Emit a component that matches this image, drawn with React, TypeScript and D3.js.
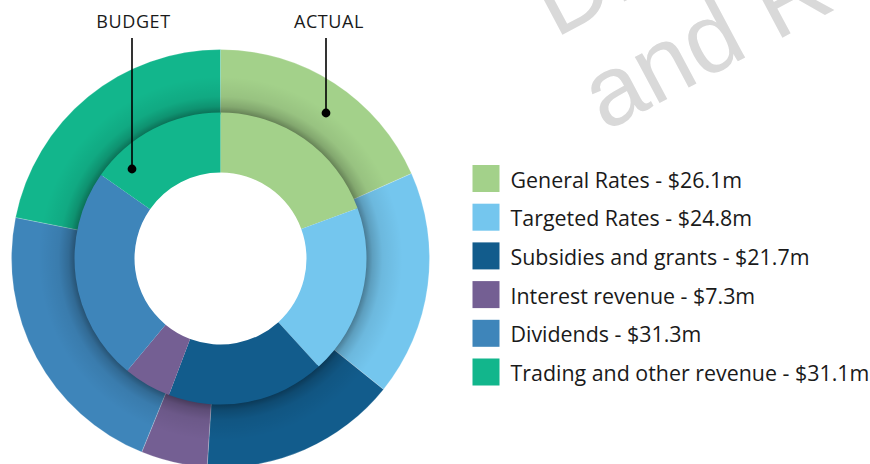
import React from "react";
import * as d3 from "d3";

const categories = [
  "General Rates",
  "Targeted Rates",
  "Subsidies and grants",
  "Interest revenue",
  "Dividends",
  "Trading and other revenue",
];
const actualValues = [26.1, 24.8, 21.7, 7.3, 31.3, 31.1];
const budgetValues = [27.2, 26.4, 24.5, 7.4, 33.2, 21.4];
const legendLabels = [
  "General Rates - $26.1m",
  "Targeted Rates - $24.8m",
  "Subsidies and grants - $21.7m",
  "Interest revenue - $7.3m",
  "Dividends - $31.3m",
  "Trading and other revenue - $31.1m",
];
const colors = ["#a3d18a", "#74c6ee", "#125c8c", "#745f93", "#3e85ba", "#12b68c"];
const ringLabels = ["BUDGET", "ACTUAL"];

const W = 870;
const H = 464;
const cx = 220.5;
const cy = 258.5;
const rOuter = 209;
const rMid = 146;
const rHole = 86;

export default function App() {
  const pie = d3.pie<number>().sort(null).value((d) => d);
  const outerArcs = pie(actualValues);
  const innerArcs = pie(budgetValues);
  const outerArc = d3.arc<d3.PieArcDatum<number>>().innerRadius(rMid - 2).outerRadius(rOuter);
  const innerArc = d3.arc<d3.PieArcDatum<number>>().innerRadius(rHole).outerRadius(rMid);
  const shadowOuter = rMid + 36;
  const shadowRing = d3.arc()({ innerRadius: rMid - 1, outerRadius: shadowOuter, startAngle: 0, endAngle: Math.PI * 2 } as any) as string;

  const legendY = d3.scaleBand<string>().domain(categories).range([165, 165 + 38.7 * 6]);

  const font = "'Open Sans', 'DejaVu Sans', sans-serif";

  return (
    <svg width={W} height={H} style={{ position: "absolute", left: 0, top: 0, background: "#fff" }}>
      <defs>
        <radialGradient id="ringShadow" gradientUnits="userSpaceOnUse" cx={0} cy={0} r={shadowOuter}>
          <stop offset={(rMid - 1) / shadowOuter} stopColor="#000" stopOpacity={0.4} />
          <stop offset={(rMid + 6) / shadowOuter} stopColor="#000" stopOpacity={0.2} />
          <stop offset={(rMid + 16) / shadowOuter} stopColor="#000" stopOpacity={0.07} />
          <stop offset={1} stopColor="#000" stopOpacity={0} />
        </radialGradient>
      </defs>
      {/* watermark */}
      <g transform="translate(605,132) rotate(-28)" fill="#d9d9d9" fontFamily="'Liberation Sans', Arial, sans-serif" fontSize={99}>
        <text x={0} y={-106}>Draft</text>
        <text x={0} y={0}>and Review</text>
      </g>
      <g transform={`translate(${cx},${cy})`}>
        {outerArcs.map((a, i) => (
          <path key={"o" + i} d={outerArc(a) as string} fill={colors[i]} stroke="#ffffff" strokeOpacity={0.5} strokeWidth={0.4} />
        ))}
        <path d={shadowRing} fill="url(#ringShadow)" />
        {innerArcs.map((a, i) => (
          <path key={"i" + i} d={innerArc(a) as string} fill={colors[i]} />
        ))}
      </g>
      {/* labels and pointers */}
      <text x={133.5} y={28} textAnchor="middle" fontFamily={font} fontSize={18} letterSpacing={0.6} fill="#1a1a1a">{ringLabels[0]}</text>
      <text x={329} y={28} textAnchor="middle" fontFamily={font} fontSize={18} letterSpacing={0.6} fill="#1a1a1a">{ringLabels[1]}</text>
      <line x1={132} y1={38} x2={132} y2={169} stroke="#000" strokeWidth={1.6} />
      <circle cx={132} cy={169} r={4.4} fill="#000" />
      <line x1={326} y1={38} x2={326} y2={113} stroke="#000" strokeWidth={1.6} />
      <circle cx={326} cy={113} r={4.4} fill="#000" />
      {/* legend */}
      {categories.map((c, i) => (
        <g key={c} transform={`translate(472.5,${legendY(c)})`}>
          <rect width={27} height={27} fill={colors[i]} />
          <text x={38} y={22.5} fontFamily={font} fontSize={21.4} fill="#1a1a1a">{legendLabels[i]}</text>
        </g>
      ))}
    </svg>
  );
}
